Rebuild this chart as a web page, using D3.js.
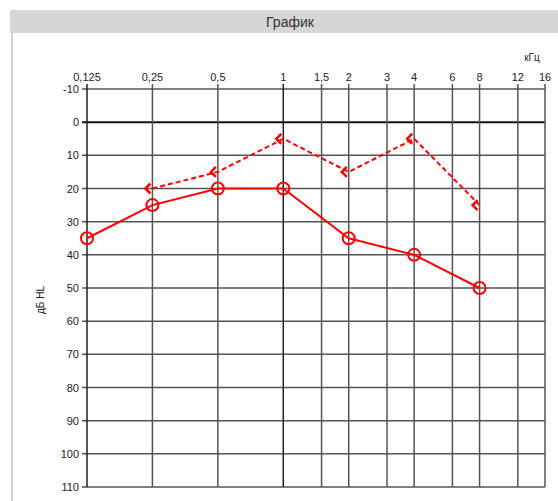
<!DOCTYPE html>
<html><head><meta charset="utf-8">
<script src="https://cdn.jsdelivr.net/npm/d3@7"></script>
<style>body{margin:0;background:#fff}svg{display:block}</style>
</head><body>
<svg id="c" width="558" height="501"></svg>
<script>
const freqs = [0.125, 0.25, 0.5, 1, 1.5, 2, 3, 4, 6, 8, 12, 16];
const freqLabels = ["0,125","0,25","0,5","1","1,5","2","3","4","6","8","12","16"];
const dbTicks = [-10,0,10,20,30,40,50,60,70,80,90,100,110];
const airFreq = [0.125, 0.25, 0.5, 1, 2, 4, 8];
const airDb = [35, 25, 20, 20, 35, 40, 50];
const boneFreq = [0.25, 0.5, 1, 2, 4, 8];
const boneDb = [20, 15, 5, 15, 5, 25];

const svg = d3.select("#c");
// header
svg.append("rect").attr("x",10).attr("y",10).attr("width",548).attr("height",23).attr("fill","#d6d6d6");
svg.append("text").attr("x",290).attr("y",27).attr("text-anchor","middle")
  .attr("font-family","Liberation Sans, Arial, sans-serif").attr("font-size",14).attr("fill","#333").text("График");
svg.append("line").attr("x1",12).attr("x2",12).attr("y1",33).attr("y2",501).attr("stroke","#d0d0d0").attr("stroke-width",2);

const x = d3.scaleLog().base(2).domain([0.125,16]).range([87,545]);
const y = d3.scaleLinear().domain([-10,110]).range([89,487]);
const font = "Liberation Sans, Arial, sans-serif";
const g = svg.append("g");

// horizontal grid
g.selectAll("line.h").data(dbTicks).join("line")
  .attr("x1",82).attr("x2",545).attr("y1",d=>y(d)).attr("y2",d=>y(d))
  .attr("stroke",d=>d===0?"#111":"#555").attr("stroke-width",d=>d===0?2:1.5);
// vertical grid
g.selectAll("line.v").data(freqs).join("line")
  .attr("x1",d=>x(d)).attr("x2",d=>x(d)).attr("y1",84).attr("y2",487)
  .attr("stroke",d=>(d===0.125||d===1)?"#222":"#555").attr("stroke-width",1.5);

// y labels
g.selectAll("text.yl").data(dbTicks).join("text")
  .attr("x",79).attr("y",d=>y(d)+4).attr("text-anchor","end")
  .attr("font-family",font).attr("font-size",11).attr("fill","#222").text(d=>d);
// x labels
g.selectAll("text.xl").data(freqs).join("text")
  .attr("x",d=>x(d)).attr("y",81).attr("text-anchor","middle")
  .attr("font-family",font).attr("font-size",11).attr("fill","#222").text((d,i)=>freqLabels[i]);
svg.append("text").attr("x",532).attr("y",61).attr("text-anchor","middle")
  .attr("font-family",font).attr("font-size",10).attr("fill","#222").text("кГц");
svg.append("text").attr("transform","translate(44,300) rotate(-90)").attr("text-anchor","middle")
  .attr("font-family",font).attr("font-size",10).attr("fill","#222").text("дБ HL");

const red = "#f00";
const air = airFreq.map((f,i)=>[f,airDb[i]]);
const bone = boneFreq.map((f,i)=>[f,boneDb[i]]);
const line = d3.line().x(d=>x(d[0])).y(d=>y(d[1]));

svg.append("path").attr("d",line(bone)).attr("fill","none").attr("stroke",red)
  .attr("stroke-width",2).attr("stroke-dasharray","5,3");
svg.append("path").attr("d",line(air)).attr("fill","none").attr("stroke",red).attr("stroke-width",2);

svg.selectAll("circle.a").data(air).join("circle")
  .attr("cx",d=>x(d[0])).attr("cy",d=>y(d[1])).attr("r",6)
  .attr("fill","none").attr("stroke",red).attr("stroke-width",2);
svg.selectAll("path.b").data(bone).join("path")
  .attr("d",d=>{const cx=x(d[0]), cy=y(d[1]); return `M${cx-2},${cy-5}L${cx-7},${cy}L${cx-2},${cy+5}`;})
  .attr("fill","none").attr("stroke",red).attr("stroke-width",2.5);
</script>
</body></html>
